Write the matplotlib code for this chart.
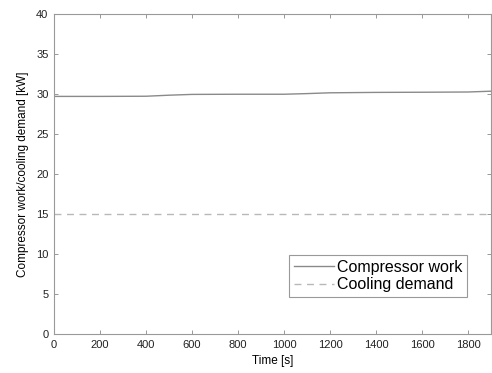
import matplotlib.pyplot as plt
import matplotlib

matplotlib.rcParams["font.family"] = ["Liberation Sans", "DejaVu Sans"]

# compressor power over the run, cooling demand is constant
time_s = [0, 200, 400, 500, 600, 800, 1000, 1100, 1200, 1400, 1600, 1800, 1900]
compressor_kw = [29.7, 29.7, 29.72, 29.85, 29.95, 29.97, 29.97, 30.05, 30.15, 30.2, 30.22, 30.25, 30.35]
demand_time = [0, 1900]
demand_kw = [15, 15]

fig = plt.figure(figsize=(4.92, 3.73), dpi=100)
ax = fig.add_axes([54 / 492, 39 / 373, 437 / 492, 320 / 373])

ax.plot(time_s, compressor_kw, color="#8a8a8a", lw=1.0, label="Compressor work")
ax.plot(demand_time, demand_kw, color="#b8b8b8", lw=1.0, ls=(0, (5, 4)), label="Cooling demand")

ax.set_xlim(0, 1900)
ax.set_ylim(0, 40)
ax.set_xticks(range(0, 1801, 200))
ax.set_yticks(range(0, 41, 5))
ax.tick_params(direction="in", length=3, width=0.6, colors="#888888", labelcolor="#222222",
               labelsize=8, top=True, right=True, pad=4)
for s in ax.spines.values():
    s.set_color("#999999")
    s.set_linewidth(0.8)

ax.set_xlabel("Time [s]", fontsize=8.5, labelpad=4)
ax.set_ylabel("Compressor work/cooling demand [kW]", fontsize=8.5, labelpad=5)

leg = ax.legend(loc="lower right", bbox_to_anchor=(0.945, 0.115), fontsize=11.5, fancybox=False,
                framealpha=1, edgecolor="#999999", handlelength=2.5, borderpad=0.3,
                labelspacing=0.15, handletextpad=0.2, borderaxespad=0)
leg.get_frame().set_linewidth(0.8)

fig.savefig("out.png", dpi=100)
